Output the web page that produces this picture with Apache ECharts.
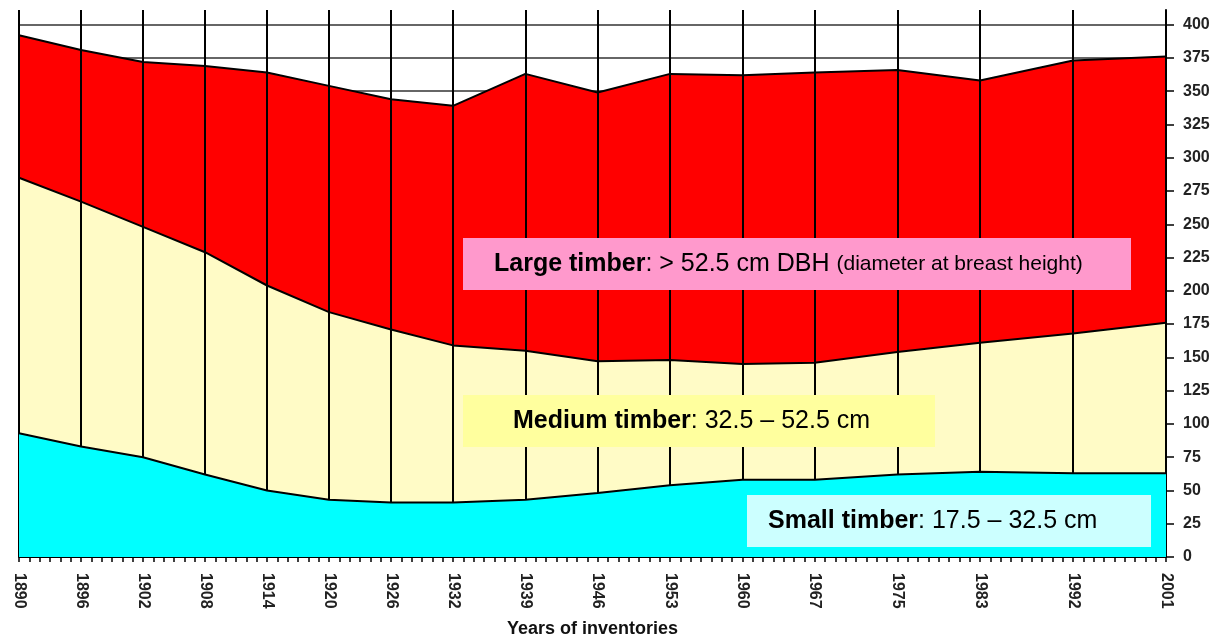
<!DOCTYPE html>
<html><head><meta charset="utf-8">
<script src="https://cdn.jsdelivr.net/npm/echarts@6/dist/echarts.min.js"></script>
<style>html,body{margin:0;padding:0;background:#fff}#c{width:1223px;height:637px}</style>
</head><body><div id="c"></div>
<script>
const years = [1890,1896,1902,1908,1914,1920,1926,1932,1939,1946,1953,1960,1967,1975,1983,1992,2001];
const smallTimber  = [93,83,75,62,50,43,41,41,43,48,54,58,58,62,64,63,63];
const mediumTimber = [192,184,173,167,154,141,130,118,112,99,94,87,88,92,97,105,113];
const largeTimber  = [107,114,124,140,160,170,173,180,208,202,215,217,218,212,197,205,200];
const yTicks = [0,25,50,75,100,125,150,175,200,225,250,275,300,325,350,375,400];
const xAxisName = 'Years of inventories';

const FONT = '"Liberation Sans", Arial, sans-serif';
const chart = echarts.init(document.getElementById('c'), null, {renderer:'canvas'});

// cumulative (stacked) tops, layered bottom-up; drawn back to front
const smallTop  = smallTimber.map(v => v);
const mediumTop = smallTimber.map((v, i) => v + mediumTimber[i]);
const totalTop  = mediumTop.map((v, i) => v + largeTimber[i]);

function mk(name, vals, color, z) {
  return {
    name, type: 'line', z, symbol: 'none', silent: true,
    data: years.map((y, i) => [y, vals[i]]),
    lineStyle: {color: '#000', width: 2},
    areaStyle: {color: color, opacity: 1, origin: 'start'}
  };
}

chart.setOption({
  animation: false,
  backgroundColor: '#fff',
  grid: {left: 19, right: 57, top: 10, bottom: 80, outerBoundsMode: 'none', containLabel: false},
  xAxis: {
    type: 'value', min: 1890, max: 2001, interval: 1,
    name: xAxisName, nameLocation: 'middle', nameGap: 63,
    nameTextStyle: {fontFamily: FONT, fontWeight: 'bold', fontSize: 18, color: '#111'},
    axisLine: {show: true, lineStyle: {color: '#000', width: 2}},
    axisTick: {show: true, length: 5, lineStyle: {color: '#000', width: 1.5}},
    axisLabel: {
      customValues: years, rotate: -90, margin: 16,
      fontFamily: FONT, fontWeight: 'bold', fontSize: 16, color: '#222',
      formatter: v => String(v)
    },
    splitLine: {show: false}
  },
  yAxis: {
    type: 'value', position: 'right', min: 0, max: 411, interval: 25,
    axisLine: {show: true, lineStyle: {color: '#000', width: 2}},
    axisTick: {show: true, customValues: yTicks, length: 8, lineStyle: {color: '#000', width: 1.5}},
    axisLabel: {customValues: yTicks, margin: 17, fontFamily: FONT, fontWeight: 'bold', fontSize: 16, color: '#222'},
    splitLine: {show: true, lineStyle: {color: '#333', width: 1.5}}
  },
  series: [
    mk('Large timber', totalTop, '#FF0000', 3),
    mk('Medium timber', mediumTop, '#FFFBC6', 4),
    mk('Small timber', smallTop, '#00FFFF', 5),
    {
      type: 'line', z: 10, data: [], silent: true,
      markLine: {
        silent: true, symbol: ['none', 'none'], label: {show: false},
        lineStyle: {color: '#000', width: 2, type: 'solid'},
        data: years.map(y => ({xAxis: y}))
      }
    }
  ],
  graphic: [
    {type: 'rect', z: 20, shape: {x: 463, y: 238, width: 668, height: 52}, style: {fill: '#FF99CC'}},
    {type: 'text', z: 21, x: 494, y: 264, style: {
      text: '{a|Large timber}{b|: > 52.5 cm DBH }{c|(diameter at breast height)}',
      verticalAlign: 'middle', fill: '#000',
      rich: {a: {fontFamily: FONT, fontWeight: 'bold', fontSize: 25, fill: '#000'},
             b: {fontFamily: FONT, fontSize: 25, fill: '#000'},
             c: {fontFamily: FONT, fontSize: 21, fill: '#000'}}
    }},
    {type: 'rect', z: 20, shape: {x: 463, y: 395, width: 472, height: 52}, style: {fill: '#FFFF9E'}},
    {type: 'text', z: 21, x: 513, y: 421, style: {
      text: '{a|Medium timber}{b|: 32.5 \u2013 52.5 cm}',
      verticalAlign: 'middle', fill: '#000',
      rich: {a: {fontFamily: FONT, fontWeight: 'bold', fontSize: 25, fill: '#000'},
             b: {fontFamily: FONT, fontSize: 25, fill: '#000'}}
    }},
    {type: 'rect', z: 20, shape: {x: 747, y: 495, width: 404, height: 52}, style: {fill: '#CCFFFF'}},
    {type: 'text', z: 21, x: 768, y: 521, style: {
      text: '{a|Small timber}{b|: 17.5 \u2013 32.5 cm}',
      verticalAlign: 'middle', fill: '#000',
      rich: {a: {fontFamily: FONT, fontWeight: 'bold', fontSize: 25, fill: '#000'},
             b: {fontFamily: FONT, fontSize: 25, fill: '#000'}}
    }}
  ]
});
</script>
</body></html>
